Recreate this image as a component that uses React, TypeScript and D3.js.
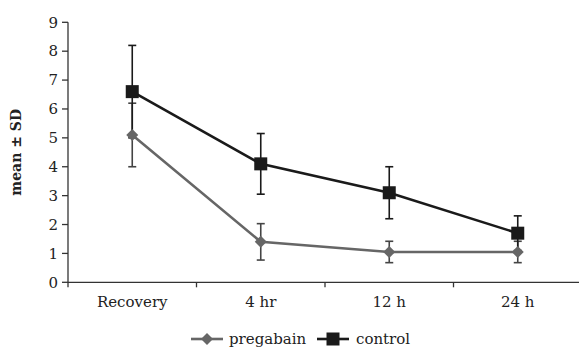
import React from "react";
import * as d3 from "d3";

const categories = ["Recovery", "4 hr", "12 h", "24 h"];
const pregabainMean = [5.1, 1.4, 1.05, 1.05];
const pregabainSD = [1.1, 0.63, 0.37, 0.37];
const controlMean = [6.6, 4.1, 3.1, 1.7];
const controlSD = [1.6, 1.05, 0.9, 0.6];
const yTicks = [0, 1, 2, 3, 4, 5, 6, 7, 8, 9];

const W = 579, H = 348;
const left = 68, right = 582, top = 22.3, bottom = 282.3;
const FONT = "'DejaVu Serif', 'Liberation Serif', serif";

export default function App() {
  const x = d3.scaleBand<string>().domain(categories).range([left, right]);
  const y = d3.scaleLinear().domain([0, 9]).range([bottom, top]);
  const cx = (c: string) => (x(c) as number) + x.bandwidth() / 2;

  const line = d3.line<number>().x((_, i) => cx(categories[i])).y((d) => y(d));

  const series = [
    { name: "pregabain", mean: pregabainMean, sd: pregabainSD, color: "#666666", shape: "diamond" },
    { name: "control", mean: controlMean, sd: controlSD, color: "#1a1a1a", shape: "square" },
  ];

  const marker = (shape: string, px: number, py: number, color: string, key: string) =>
    shape === "square" ? (
      <rect key={key} x={px - 6.5} y={py - 6.5} width={13} height={13} fill={color} />
    ) : (
      <path key={key} d={`M${px},${py - 6}L${px + 6},${py}L${px},${py + 6}L${px - 6},${py}Z`} fill={color} />
    );

  return (
    <svg width={W} height={H} style={{ position: "absolute", left: 0, top: 0, background: "#fff" }}>
      <rect width={W} height={H} fill="#fff" />
      {/* axes */}
      <line x1={left} x2={left} y1={top} y2={bottom} stroke="#333" strokeWidth={1.3} />
      <line x1={left} x2={W} y1={bottom} y2={bottom} stroke="#333" strokeWidth={1.3} />
      {yTicks.map((t) => (
        <g key={t}>
          <line x1={left - 6} x2={left} y1={y(t)} y2={y(t)} stroke="#333" strokeWidth={1.3} />
          <text x={left - 10} y={y(t)} dy="0.35em" textAnchor="end" fontFamily={FONT} fontSize={15} fill="#222">
            {t}
          </text>
        </g>
      ))}
      {categories.map((c) => (
        <g key={c}>
          <line x1={(x(c) as number)} x2={(x(c) as number)} y1={bottom} y2={bottom + 5} stroke="#333" strokeWidth={1.3} />
          <text x={cx(c)} y={307} textAnchor="middle" fontFamily={FONT} fontSize={15} fill="#222">
            {c}
          </text>
        </g>
      ))}
      <text
        transform={`translate(21,${(top + bottom) / 2}) rotate(-90)`}
        textAnchor="middle"
        fontFamily={FONT}
        fontSize={14}
        fontWeight="bold"
        fill="#222"
      >
        mean ± SD
      </text>

      {series.map((s) => (
        <g key={s.name}>
          {s.mean.map((m, i) => {
            const px = cx(categories[i]);
            const y1 = y(m + s.sd[i]);
            const y2 = y(m - s.sd[i]);
            return (
              <g key={i} stroke={s.color === "#666666" ? "#444" : "#1a1a1a"} strokeWidth={1.6}>
                <line x1={px} x2={px} y1={y1} y2={y2} />
                <line x1={px - 4} x2={px + 4} y1={y1} y2={y1} />
                <line x1={px - 4} x2={px + 4} y1={y2} y2={y2} />
              </g>
            );
          })}
        </g>
      ))}
      {series.map((s) => (
        <g key={s.name + "l"}>
          <path d={line(s.mean) as string} fill="none" stroke={s.color} strokeWidth={2.6} />
          {s.mean.map((m, i) => marker(s.shape, cx(categories[i]), y(m), s.color, s.name + i))}
        </g>
      ))}

      {/* legend */}
      <g>
        <line x1={191} x2={223} y1={339} y2={339} stroke="#666666" strokeWidth={2.6} />
        {marker("diamond", 207, 339, "#666666", "lg1")}
        <text x={229} y={344} fontFamily={FONT} fontSize={15} fill="#222">pregabain</text>
        <line x1={317} x2={349} y1={339} y2={339} stroke="#1a1a1a" strokeWidth={2.6} />
        {marker("square", 333, 339, "#1a1a1a", "lg2")}
        <text x={356} y={344} fontFamily={FONT} fontSize={15} fill="#222">control</text>
      </g>
    </svg>
  );
}
